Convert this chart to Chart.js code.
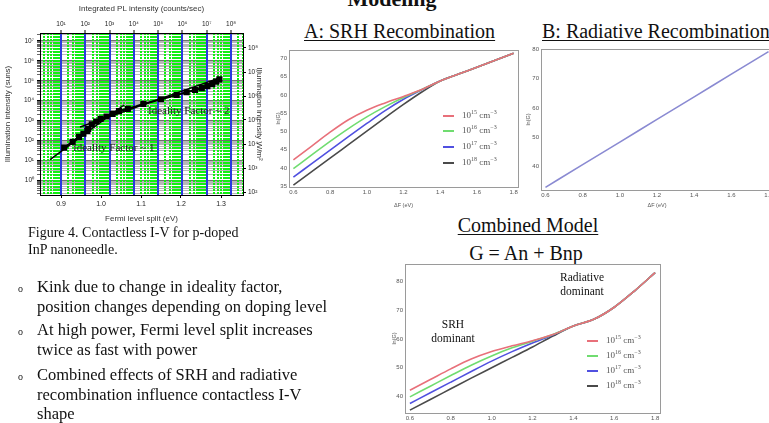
<!DOCTYPE html>
<html>
<head>
<meta charset="utf-8">
<script src="https://cdn.jsdelivr.net/npm/chart.js@4.4.0/dist/chart.umd.min.js"></script>
<style>
  body { margin:0; width:769px; height:423px; overflow:hidden; background:#fff; position:relative;
         font-family:"Liberation Serif","Times New Roman",serif; color:#111; }
  .box { position:absolute; }
  .t { position:absolute; white-space:nowrap; line-height:1; }
  .u { text-decoration:underline; text-decoration-thickness:1px; text-underline-offset:2px; }
  .leg { position:absolute; white-space:nowrap; font-size:9px; line-height:9px; color:#555; }
  .leg i { display:inline-block; width:11px; height:1.6px; vertical-align:middle; margin-right:8px; }
  .leg sup { font-size:6px; line-height:0; }
</style>
</head>
<body>

<div class="t" style="left:392px;top:-12px;font-size:22px;font-weight:bold;transform:translateX(-50%)">Modeling</div>

<!-- Figure 4 -->
<div class="box" style="left:0;top:0;width:265px;height:228px"><canvas id="plChart"></canvas></div>
<div class="t" style="left:148px;top:105px;font-size:11px;color:#222">Ideality Factor ~ 2</div>
<div class="t" style="left:73px;top:142px;font-size:11px;color:#222">Ideality Factor ~ 1</div>
<div class="t" style="left:28px;top:224px;font-size:14px;line-height:17px">Figure 4. Contactless I-V for p-doped<br>InP nanoneedle.</div>

<div class="t" style="left:18px;top:284px;font-size:10px">o</div>
<div class="t" style="left:37px;top:277px;font-size:16.5px;line-height:19.5px">Kink due to change in ideality factor,<br>position changes depending on doping level</div>
<div class="t" style="left:18px;top:327px;font-size:10px">o</div>
<div class="t" style="left:37px;top:320px;font-size:16.5px;line-height:19.5px">At high power, Fermi level split increases<br>twice as fast with power</div>
<div class="t" style="left:18px;top:372px;font-size:10px">o</div>
<div class="t" style="left:37px;top:365px;font-size:16.5px;line-height:19.5px">Combined effects of SRH and radiative<br>recombination influence contactless I-V<br>shape</div>

<!-- A -->
<div class="t u" style="left:304px;top:21px;font-size:20px">A: SRH Recombination</div>
<div class="box" style="left:274px;top:40px;width:250px;height:172px"><canvas id="srhChart"></canvas></div>
<div class="leg" style="left:443px;top:111px"><i style="background:#e8707a"></i>10<sup>15</sup> cm<sup>−3</sup></div>
<div class="leg" style="left:443px;top:126px"><i style="background:#70dc70"></i>10<sup>16</sup> cm<sup>−3</sup></div>
<div class="leg" style="left:443px;top:142px"><i style="background:#5050e0"></i>10<sup>17</sup> cm<sup>−3</sup></div>
<div class="leg" style="left:443px;top:158px"><i style="background:#4a4a4a"></i>10<sup>18</sup> cm<sup>−3</sup></div>

<!-- B -->
<div class="t u" style="left:542px;top:21px;font-size:20px">B: Radiative Recombination</div>
<div class="box" style="left:524px;top:40px;width:255px;height:172px"><canvas id="radChart"></canvas></div>

<!-- Combined -->
<div class="t u" style="left:528px;top:215px;font-size:20px;transform:translateX(-50%)">Combined Model</div>
<div class="t" style="left:526px;top:243px;font-size:20px;transform:translateX(-50%)">G = An + Bnp</div>
<div class="box" style="left:390px;top:258px;width:276px;height:165px"><canvas id="combChart"></canvas></div>
<div class="t" style="left:582px;top:270px;font-size:11.5px;line-height:14px;text-align:center;transform:translateX(-50%)">Radiative<br>dominant</div>
<div class="t" style="left:453px;top:317px;font-size:11.5px;line-height:14px;text-align:center;transform:translateX(-50%)">SRH<br>dominant</div>
<div class="leg" style="left:587px;top:336px"><i style="background:#e8707a"></i>10<sup>15</sup> cm<sup>−3</sup></div>
<div class="leg" style="left:587px;top:351px"><i style="background:#70dc70"></i>10<sup>16</sup> cm<sup>−3</sup></div>
<div class="leg" style="left:587px;top:366px"><i style="background:#5050e0"></i>10<sup>17</sup> cm<sup>−3</sup></div>
<div class="leg" style="left:587px;top:381px"><i style="background:#4a4a4a"></i>10<sup>18</sup> cm<sup>−3</sup></div>

<script>
// ---- Figure 4: contactless I-V ----
const fermiSplit = [0.908, 0.929, 0.945, 0.956, 0.966, 0.968, 0.977, 0.988, 0.999, 1.014, 1.029, 1.045,
                    1.067, 1.106, 1.150, 1.189, 1.214, 1.235, 1.252, 1.266, 1.278, 1.288, 1.296];
const illumSuns = [43, 83, 148, 214, 295, 380, 630, 890, 1200, 1580, 2140, 2950,
                   3800, 6760, 11700, 19000, 26300, 33900, 42700, 53700, 67600, 89100, 117000];
const fitN1Split = [0.8725, 1.0575];
const fitN1Suns = [10.7, 6030];
const fitN2Split = [0.9475, 1.30];
const fitN2Suns = [468, 148000];
const splitTicks = [0.9, 1.0, 1.1, 1.2, 1.3];
const plDecades = [1, 2, 3, 4, 5, 6, 7, 8];
const sunDecades = [0, 1, 2, 3, 4, 5, 6, 7];
const wattDecades = [2, 3, 4, 5, 6, 7, 8];

// ---- Modeling: ln(G) vs deltaF ----
const deltaF = [0.6, 0.7, 0.8, 0.9, 1.0, 1.1, 1.2, 1.3, 1.4, 1.5, 1.6, 1.7, 1.8];
const dopingLabels = ['1e15', '1e16', '1e17', '1e18'];
const srh15 = [42.2, 46.0, 49.8, 53.2, 55.8, 57.8, 59.6, 61.5, 63.8, 65.7, 67.6, 69.5, 71.4];
const srh16 = [39.8, 43.6, 47.3, 50.8, 54.0, 56.8, 59.3, 61.5, 63.8, 65.7, 67.6, 69.5, 71.4];
const srh17 = [37.5, 41.2, 44.9, 48.6, 52.2, 55.7, 58.8, 61.4, 63.8, 65.7, 67.6, 69.5, 71.4];
const srh18 = [35.3, 39.0, 42.7, 46.4, 50.1, 53.8, 57.4, 60.8, 63.8, 65.7, 67.6, 69.5, 71.4];
const radF = [0.6, 0.8, 1.0, 1.2, 1.4, 1.6, 1.8];
const radLnG = [32.8, 40.6, 48.3, 56.1, 63.8, 71.6, 79.3];
const comb15 = [42.2, 45.9, 49.6, 53.0, 55.6, 57.6, 59.4, 61.5, 64.5, 66.8, 71.0, 76.7, 83.0];
const comb16 = [39.9, 43.6, 47.3, 50.9, 54.1, 56.9, 59.2, 61.5, 64.5, 66.8, 71.0, 76.7, 83.0];
const comb17 = [37.6, 41.3, 45.0, 48.7, 52.3, 55.6, 58.6, 61.4, 64.5, 66.8, 71.0, 76.7, 83.0];
const comb18 = [35.3, 39.0, 42.7, 46.4, 50.0, 53.6, 57.2, 61.0, 64.5, 66.8, 71.0, 76.7, 83.0];
const fTicks = [0.6, 0.8, 1.0, 1.2, 1.4, 1.6, 1.8];
const srhTicks = [35, 40, 45, 50, 55, 60, 65, 70];
const radTicks = [40, 50, 60, 70, 80];
const combTicks = [40, 50, 60, 70, 80];
const dopingColors = ['#e8707a', '#70dc70', '#5050e0', '#4a4a4a'];

Chart.defaults.font.family = '"Liberation Sans", Arial, sans-serif';
Chart.defaults.color = '#222';

const SUP = {'0':'⁰','1':'¹','2':'²','3':'³','4':'⁴','5':'⁵','6':'⁶','7':'⁷','8':'⁸','9':'⁹','-':'⁻'};
const pow10 = e => '10' + String(e).split('').map(c => SUP[c]).join('');
const isDecade = v => Math.abs(Math.log10(v) - Math.round(Math.log10(v))) < 1e-6;
const zip = (xs, ys) => xs.map((x, i) => ({ x: x, y: ys[i] }));

// pin an axis to a fixed thickness so the plot area lands where it should
function fixSize(prop, px) {
  return function(axis) {
    axis[prop] = px;
    axis.paddingLeft = axis.paddingRight = axis.paddingTop = axis.paddingBottom = 0;
  };
}
function setTicks(values) {
  return function(axis) { axis.ticks = values.map(v => ({ value: v })); };
}
// 1..9 x 10^n between lo and hi
function logGrid(lo, hi) {
  const out = [];
  for (let e = Math.floor(Math.log10(lo)); e <= Math.ceil(Math.log10(hi)); e++) {
    for (let k = 1; k < 10; k++) {
      const v = k * Math.pow(10, e);
      if (v >= lo && v <= hi) out.push(v);
    }
  }
  return out;
}

// ---------- Figure 4 ----------
const topMin = Math.pow(10, 0.1355), topMax = Math.pow(10, 8.494);
const sunMin = Math.pow(10, -0.75), sunMax = Math.pow(10, 7.4);
const wMin = Math.pow(10, 1.875), wMax = Math.pow(10, 8.625);

new Chart(document.getElementById('plChart'), {
  type: 'line',
  data: {
    datasets: [{
      data: zip(fermiSplit, illumSuns),
      borderColor: '#000', backgroundColor: '#000', borderWidth: 2.2,
      pointStyle: 'rect', pointRadius: 2.8, yAxisID: 'y'
    }, {
      data: zip(fitN1Split, fitN1Suns),
      borderColor: '#000', borderWidth: 1.4, pointRadius: 0, yAxisID: 'y'
    }, {
      data: zip(fitN2Split, fitN2Suns),
      borderColor: '#000', borderWidth: 1.4, pointRadius: 0, yAxisID: 'y'
    }]
  },
  options: {
    responsive: true, maintainAspectRatio: false, animation: false,
    layout: { padding: 0 },
    plugins: { legend: { display: false }, tooltip: { enabled: false } },
    scales: {
      x: {
        type: 'linear', position: 'bottom', min: 0.8475, max: 1.355,
        afterFit: fixSize('height', 33), afterBuildTicks: setTicks(splitTicks),
        ticks: { font: { size: 7 }, padding: 2, maxRotation: 0, autoSkip: false, callback: v => v.toFixed(1) },
        grid: { drawOnChartArea: false, tickLength: 3, color: '#000' },
        border: { color: '#000' },
        title: { display: true, text: 'Fermi level split (eV)', font: { size: 8 }, color: '#333', padding: { top: 1, bottom: 4 } }
      },
      xTop: {
        type: 'logarithmic', position: 'top', min: topMin, max: topMax,
        afterFit: fixSize('height', 33), afterBuildTicks: setTicks(plDecades.map(e => Math.pow(10, e))),
        ticks: { font: { size: 6.5 }, padding: 2, maxRotation: 0, autoSkip: false,
                 callback: v => pow10(Math.round(Math.log10(v))) },
        grid: { color: '#2a3adf', lineWidth: 2, tickLength: 3, tickColor: '#000', tickWidth: 1, z: -1 },
        border: { color: '#000' },
        title: { display: true, text: 'Integrated PL intensity (counts/sec)', font: { size: 8 }, color: '#333', padding: { top: 4, bottom: 2 } }
      },
      xTopMinor: {
        type: 'logarithmic', position: 'top', min: topMin, max: topMax,
        afterFit: fixSize('height', 0),
        afterBuildTicks: setTicks(logGrid(topMin, topMax).filter(v => !isDecade(v))),
        ticks: { display: false },
        grid: { color: '#10f010', lineWidth: 2, drawTicks: false, z: -2, borderDash: [2, 1] },
        border: { display: false, dash: [2, 1] }
      },
      y: {
        type: 'logarithmic', position: 'left', min: sunMin, max: sunMax,
        afterFit: fixSize('width', 40), afterBuildTicks: setTicks(logGrid(sunMin, sunMax)),
        ticks: { font: { size: 6.5 }, padding: 3, autoSkip: false,
                 callback: v => isDecade(v) ? pow10(Math.round(Math.log10(v))) : '' },
        grid: { color: c => isDecade(c.tick.value) ? '#707070' : '#b8b8b8', lineWidth: 1, z: -3,
                tickLength: 3, tickColor: c => isDecade(c.tick.value) ? '#000' : '#666' },
        border: { color: '#000' },
        title: { display: true, text: 'Illumination intensity (suns)', font: { size: 8 }, color: '#333', padding: { top: 3, bottom: 1 } }
      },
      yRight: {
        type: 'logarithmic', position: 'right', min: wMin, max: wMax,
        afterFit: fixSize('width', 22), afterBuildTicks: setTicks(wattDecades.map(e => Math.pow(10, e))),
        ticks: { font: { size: 6.5 }, padding: 2, autoSkip: false, callback: v => pow10(Math.round(Math.log10(v))) },
        grid: { drawOnChartArea: false, tickLength: 3, color: '#000' },
        border: { color: '#000' },
        title: { display: true, text: 'Illumination intensity W/m²', font: { size: 8 }, color: '#333', padding: { top: 1, bottom: 2 } }
      }
    }
  }
});

// ---------- Modeling panels ----------
function frameAxis(pos, prop, px) {
  return {
    type: 'linear', position: pos, display: true,
    afterFit: fixSize(prop, px),
    ticks: { display: false }, grid: { display: false, drawTicks: false },
    border: { color: '#9a9a9a', width: 1 }
  };
}

function modelChart(id, series, yMin, yMax, yTicks, size, showXTitle) {
  return new Chart(document.getElementById(id), {
    type: 'line',
    data: { datasets: series },
    options: {
      responsive: true, maintainAspectRatio: false, animation: false,
      layout: { padding: 0 },
      plugins: { legend: { display: false }, tooltip: { enabled: false } },
      elements: { point: { radius: 0 }, line: { borderWidth: 1.6, cubicInterpolationMode: 'monotone' } },
      scales: {
        x: {
          type: 'linear', position: 'bottom', min: 0.576, max: 1.824,
          afterFit: fixSize('height', size.bottom), afterBuildTicks: setTicks(fTicks),
          ticks: { font: { size: 6 }, color: '#555', padding: 2, maxRotation: 0, autoSkip: false, callback: v => v.toFixed(1) },
          grid: { display: false, drawTicks: false },
          border: { color: '#9a9a9a' },
          title: { display: showXTitle, text: 'ΔF (eV)', font: { size: 5.5 }, color: '#555', padding: { top: 0, bottom: 3 } }
        },
        x2: frameAxis('top', 'height', size.top),
        y: {
          type: 'linear', position: 'left', min: yMin, max: yMax,
          afterFit: fixSize('width', size.left), afterBuildTicks: setTicks(yTicks),
          ticks: { font: { size: 6 }, color: '#555', padding: 2, autoSkip: false },
          grid: { display: false, drawTicks: false },
          border: { color: '#9a9a9a' },
          title: { display: true, text: 'ln(G)', font: { size: 5.5 }, color: '#555', padding: { top: 1, bottom: 0 } }
        },
        y2: frameAxis('right', 'width', size.right)
      }
    }
  });
}

const srhSets = [srh15, srh16, srh17, srh18].map((ys, i) => ({
  label: dopingLabels[i], data: zip(deltaF, ys), borderColor: dopingColors[i]
}));
modelChart('srhChart', srhSets, 34.8, 72.3, srhTicks, { left: 15, right: 6, top: 10, bottom: 25 }, true);

modelChart('radChart', [{ label: 'radiative', data: zip(radF, radLnG), borderColor: '#8a8ad2' }],
  31.9, 80.2, radTicks, { left: 17, right: 6, top: 9, bottom: 22 }, true);

const combSets = [comb15, comb16, comb17, comb18].map((ys, i) => ({
  label: dopingLabels[i], data: zip(deltaF, ys), borderColor: dopingColors[i]
}));
modelChart('combChart', combSets, 34.3, 86, combTicks, { left: 15, right: 6, top: 6, bottom: 10 }, false);
</script>
</body>
</html>
